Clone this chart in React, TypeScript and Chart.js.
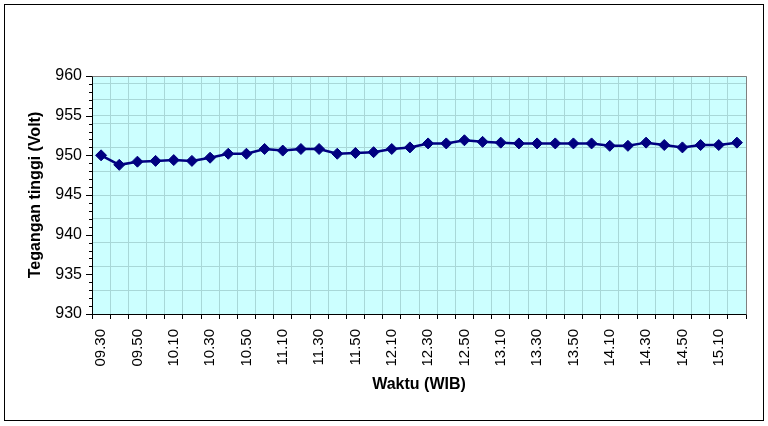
import React, { useEffect, useRef } from 'react';
import { Chart, registerables } from 'chart.js';

Chart.register(...registerables);

const TIMES = [
  '09.30', '09.40', '09.50', '10.00', '10.10', '10.20', '10.30', '10.40', '10.50',
  '11.00', '11.10', '11.20', '11.30', '11.40', '11.50', '12.00', '12.10', '12.20',
  '12.30', '12.40', '12.50', '13.00', '13.10', '13.20', '13.30', '13.40', '13.50',
  '14.00', '14.10', '14.20', '14.30', '14.40', '14.50', '15.00', '15.10', '15.20',
];

const VOLTAGE = [
  950.0, 948.8, 949.2, 949.3, 949.4, 949.3, 949.7, 950.2, 950.2,
  950.8, 950.6, 950.8, 950.8, 950.2, 950.3, 950.4, 950.8, 951.0,
  951.5, 951.5, 951.9, 951.7, 951.6, 951.5, 951.5, 951.5, 951.5,
  951.5, 951.2, 951.2, 951.6, 951.3, 951.0, 951.3, 951.3, 951.6,
];

const Y_MIN = 930;
const Y_MAX = 960;
const Y_LABEL_STEP = 5;
const GRID_VALUES = [933, 936, 939, 942, 945, 948, 951, 954, 955, 957, 959];

const PLOT_BG = '#CCFFFF';
const GRID_COLOR = '#A8D8D8';
const LINE_COLOR = '#000080';
const FONT = "'Liberation Sans', Arial, Helvetica, sans-serif";

const decorPlugin = {
  id: 'decor',
  beforeDraw(chart: any) {
    const { ctx, chartArea } = chart;
    ctx.save();
    ctx.fillStyle = PLOT_BG;
    ctx.fillRect(chartArea.left, chartArea.top, chartArea.right - chartArea.left, chartArea.bottom - chartArea.top);
    ctx.restore();
  },
  afterDraw(chart: any) {
    const { ctx, chartArea } = chart;
    const y = chart.scales.y;
    ctx.save();
    ctx.strokeStyle = '#808080';
    ctx.lineWidth = 1;
    ctx.beginPath();
    ctx.moveTo(Math.round(chartArea.left) + 0.5, Math.round(chartArea.top) + 0.5);
    ctx.lineTo(Math.round(chartArea.right) + 0.5, Math.round(chartArea.top) + 0.5);
    ctx.lineTo(Math.round(chartArea.right) + 0.5, Math.round(chartArea.bottom) + 0.5);
    ctx.stroke();
    ctx.strokeStyle = '#000';
    const x0 = Math.round(chartArea.left);
    for (let v = Y_MIN; v <= Y_MAX; v++) {
      const py = Math.round(y.getPixelForValue(v)) + 0.5;
      const len = v % Y_LABEL_STEP === 0 ? 6 : 3;
      ctx.beginPath();
      ctx.moveTo(x0 - len, py);
      ctx.lineTo(x0, py);
      ctx.stroke();
    }
    ctx.restore();
  },
};

export default function App() {
  const canvasRef = useRef<HTMLCanvasElement | null>(null);

  useEffect(() => {
    const canvas = canvasRef.current;
    if (!canvas) return;
    Chart.defaults.font.family = FONT;
    const chart = new Chart(canvas, {
      type: 'line',
      data: {
        labels: TIMES,
        datasets: [
          {
            label: 'Tegangan tinggi',
            data: VOLTAGE,
            borderColor: LINE_COLOR,
            backgroundColor: LINE_COLOR,
            borderWidth: 2.5,
            pointStyle: 'rectRot',
            pointRadius: 5.5,
            pointBorderWidth: 1,
            pointBackgroundColor: LINE_COLOR,
            pointBorderColor: LINE_COLOR,
            tension: 0,
          },
        ],
      },
      options: {
        animation: false,
        responsive: false,
        maintainAspectRatio: false,
        devicePixelRatio: 1,
        layout: { padding: { left: 0, top: 76, right: 22, bottom: 0 } },
        plugins: {
          legend: { display: false },
          tooltip: { enabled: false },
        },
        scales: {
          x: {
            type: 'category',
            offset: true,
            grid: {
              offset: true,
              color: GRID_COLOR,
              lineWidth: 1,
              drawTicks: true,
              tickLength: 5,
              tickColor: '#000',
            },
            border: { display: true, color: '#000', width: 1 },
            ticks: {
              autoSkip: false,
              maxRotation: 90,
              minRotation: 90,
              padding: 10,
              color: '#000',
              font: { size: 15, family: FONT },
              callback: (_v: any, i: number) => (i % 2 === 0 ? TIMES[i] : ''),
            },
            title: {
              display: true,
              text: 'Waktu (WIB)',
              color: '#000',
              font: { size: 16, weight: 'bold', family: FONT },
              padding: { top: 0, bottom: 32 },
            },
            afterFit: (s: any) => {
              s.height = 112;
            },
          },
          y: {
            min: Y_MIN,
            max: Y_MAX,
            grid: {
              drawTicks: false,
              lineWidth: 1,
              color: (c: any) =>
                c.tick && GRID_VALUES.includes(c.tick.value) ? GRID_COLOR : 'rgba(0,0,0,0)',
            },
            border: { display: true, color: '#000', width: 1 },
            ticks: {
              stepSize: 1,
              autoSkip: false,
              padding: 10,
              color: '#000',
              font: { size: 16, family: FONT },
              callback: (v: any) => (Number(v) % Y_LABEL_STEP === 0 ? String(v) : ''),
            },
            title: {
              display: true,
              text: 'Tegangan tinggi (Volt)',
              color: '#000',
              font: { size: 16, weight: 'bold', family: FONT },
              padding: { top: 26, bottom: 0 },
            },
            afterFit: (s: any) => {
              s.width = 92;
            },
          },
        },
      },
      plugins: [decorPlugin],
    });
    return () => chart.destroy();
  }, []);

  return (
    <div style={{ position: 'fixed', left: 0, top: 0, width: 768, height: 426, background: '#fff' }}>
      <canvas ref={canvasRef} width={768} height={426} style={{ position: 'absolute', left: 0, top: 0, width: 768, height: 426 }} />
      <div
        style={{
          position: 'absolute',
          left: 4,
          top: 4,
          width: 760,
          height: 417,
          boxSizing: 'border-box',
          border: '1px solid #000',
          pointerEvents: 'none',
        }}
      />
    </div>
  );
}
